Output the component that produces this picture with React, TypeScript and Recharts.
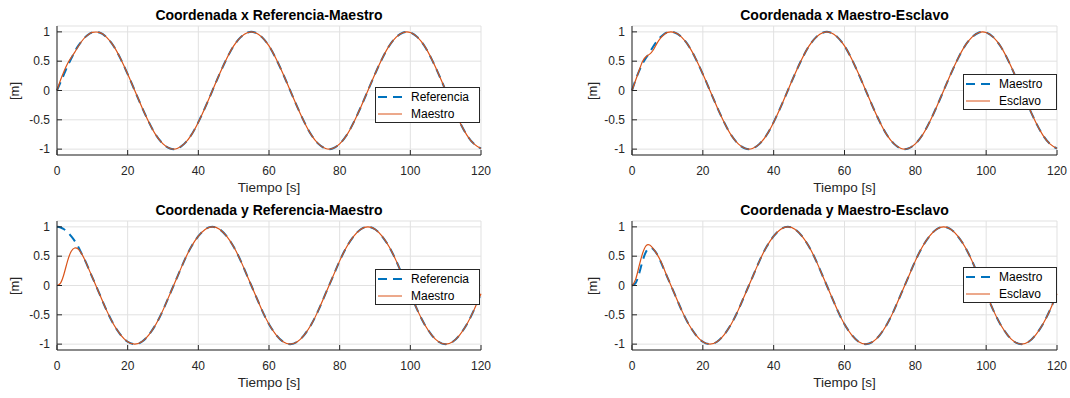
import { LineChart, Line, XAxis, YAxis, CartesianGrid, Legend } from "recharts";

// tiempo [s]: paso 1 s al arranque, luego 2 s
const tiempo = [
  0, 1, 2, 3, 4, 5, 6, 7, 8, 9, 10,
  12, 14, 16, 18, 20, 22, 24, 26, 28, 30, 32, 34, 36, 38, 40, 42, 44,
  46, 48, 50, 52, 54, 56, 58, 60, 62, 64, 66, 68, 70, 72, 74, 76, 78, 80, 82, 84, 86, 88,
  90, 92, 94, 96, 98, 100, 102, 104, 106, 108, 110, 112, 114, 116, 118, 120,
];

// tramo inicial (0..10 s) de cada señal
const xRefIni = [0, 0.14, 0.28, 0.42, 0.54, 0.66, 0.76, 0.84, 0.91, 0.96, 0.99];
const xMaestroIni = [0, 0.18, 0.33, 0.46, 0.56, 0.65, 0.75, 0.84, 0.91, 0.96, 0.99];
const xEsclavoIni = [0, 0.17, 0.34, 0.5, 0.58, 0.62, 0.69, 0.8, 0.89, 0.95, 0.99];
const yRefIni = [1, 0.99, 0.96, 0.91, 0.84, 0.76, 0.66, 0.54, 0.42, 0.28, 0.14];
const yMaestroIni = [0, 0.04, 0.2, 0.42, 0.58, 0.64, 0.62, 0.54, 0.42, 0.28, 0.14];
const yEsclavoIni = [0, 0.1, 0.33, 0.55, 0.68, 0.69, 0.63, 0.54, 0.43, 0.29, 0.14];

// resto (12..120 s), las tres señales coinciden
const xResto = [
  0.99, 0.91, 0.76, 0.54, 0.28, 0, -0.28, -0.54, -0.76, -0.91, -0.99,
  -0.99, -0.91, -0.76, -0.54, -0.28, 0,
  0.28, 0.54, 0.76, 0.91, 0.99, 0.99,
  0.91, 0.76, 0.54, 0.28, 0,
  -0.28, -0.54, -0.76, -0.91, -0.99, -0.99,
  -0.91, -0.76, -0.54, -0.28, 0,
  0.28, 0.54, 0.76, 0.91, 0.99, 0.99,
  0.91, 0.76, 0.54, 0.28, 0,
  -0.28, -0.54, -0.76, -0.91, -0.99,
];
const yResto = [
  -0.14, -0.42, -0.66, -0.84, -0.96, -1,
  -0.96, -0.84, -0.66, -0.42, -0.14, 0.14, 0.42, 0.66, 0.84, 0.96, 1,
  0.96, 0.84, 0.66, 0.42, 0.14, -0.14, -0.42, -0.66, -0.84, -0.96, -1,
  -0.96, -0.84, -0.66, -0.42, -0.14, 0.14, 0.42, 0.66, 0.84, 0.96, 1,
  0.96, 0.84, 0.66, 0.42, 0.14, -0.14, -0.42, -0.66, -0.84, -0.96, -1,
  -0.96, -0.84, -0.66, -0.42, -0.14,
];

const xTicks = [0, 20, 40, 60, 80, 100, 120];
const yTicks = [-1, -0.5, 0, 0.5, 1];

const series: Record<string, number[]> = {
  xRef: [...xRefIni, ...xResto],
  xMaestro: [...xMaestroIni, ...xResto],
  xEsclavo: [...xEsclavoIni, ...xResto],
  yRef: [...yRefIni, ...yResto],
  yMaestro: [...yMaestroIni, ...yResto],
  yEsclavo: [...yEsclavoIni, ...yResto],
};

const data = tiempo.map((t, i) => {
  const row: Record<string, number> = { t };
  for (const k of Object.keys(series)) row[k] = series[k][i];
  return row;
});

const FONT = '"Liberation Sans", Arial, Helvetica, sans-serif';
const AXIS = "#262626";
const GRID = "#e1e1e1";
const BLUE = "#0072BD";
const ORANGE = "#D95319";
const DASH = "9 6";

function BottomTick({ x, y, payload }: any) {
  return (
    <g>
      <line x1={x} x2={x} y1={y} y2={y - 5} stroke={AXIS} />
      <text x={x} y={y + 16} dy="0.35em" textAnchor="middle" fontSize={12} fill={AXIS} fontFamily={FONT}>
        {payload.value}
      </text>
    </g>
  );
}
function TopTick({ x, y }: any) {
  return <line x1={x} x2={x} y1={y} y2={y + 5} stroke={AXIS} />;
}
function LeftTick({ x, y, payload }: any) {
  return (
    <g>
      <line x1={x} x2={x + 5} y1={y} y2={y} stroke={AXIS} />
      <text x={x - 7} y={y} dy="0.35em" textAnchor="end" fontSize={12} fill={AXIS} fontFamily={FONT}>
        {payload.value}
      </text>
    </g>
  );
}
function RightTick({ x, y }: any) {
  return <line x1={x} x2={x - 5} y1={y} y2={y} stroke={AXIS} />;
}

function LegendBox({ names, width }: { names: string[]; width: number }) {
  const row = (name: string, dashed: boolean) => (
    <div style={{ display: "flex", alignItems: "center", height: 17, paddingLeft: 2 }}>
      <svg width={24} height={6} style={{ marginRight: 9 }}>
        <line
          x1={0}
          x2={24}
          y1={3}
          y2={3}
          stroke={dashed ? BLUE : ORANGE}
          strokeWidth={dashed ? 2 : 1}
          strokeDasharray={dashed ? DASH : undefined}
        />
      </svg>
      <span style={{ fontSize: 12, color: "#000", fontFamily: FONT }}>{name}</span>
    </div>
  );
  return (
    <div
      style={{
        width,
        height: 36,
        boxSizing: "border-box",
        border: `1px solid ${AXIS}`,
        background: "#fff",
        paddingTop: 0.5,
      }}
    >
      {row(names[0], true)}
      {row(names[1], false)}
    </div>
  );
}

interface PanelProps {
  left: number;
  top: number;
  width: number;
  right: number;
  title: string;
  keys: [string, string];
  names: [string, string];
  legendLeft: number;
  legendTop: number;
  legendWidth: number;
  yLabelX: number;
}

function Panel(p: PanelProps) {
  const plotLeft = 57;
  const plotRight = p.width - p.right;
  return (
    <div style={{ position: "absolute", left: p.left, top: p.top, width: p.width, height: 200 }}>
      <div
        style={{
          position: "absolute",
          left: plotLeft,
          width: plotRight - plotLeft,
          top: 7,
          textAlign: "center",
          fontFamily: FONT,
          fontWeight: "bold",
          fontSize: 14,
          lineHeight: "16px",
          color: "#000",
        }}
      >
        {p.title}
      </div>
      <div
        style={{
          position: "absolute",
          left: p.yLabelX - 20,
          top: 26 + 64.5 - 8,
          width: 40,
          height: 16,
          lineHeight: "16px",
          textAlign: "center",
          transform: "rotate(-90deg)",
          fontFamily: FONT,
          fontSize: 13,
          color: AXIS,
        }}
      >
        [m]
      </div>
      <LineChart
        width={p.width}
        height={200}
        data={data}
        margin={{ top: 26, right: p.right, bottom: 0, left: 0 }}
        style={{ position: "absolute", left: 0, top: 0 }}
      >
        <CartesianGrid stroke={GRID} strokeWidth={1} />
        <XAxis
          dataKey="t"
          type="number"
          domain={[0, 120]}
          ticks={xTicks}
          height={45}
          tickLine={false}
          tickSize={0}
          tickMargin={0}
          axisLine={{ stroke: AXIS }}
          tick={<BottomTick />}
          label={{ value: "Tiempo [s]", position: "insideBottom", offset: 8, fill: AXIS, fontSize: 13.5, fontFamily: FONT }}
        />
        <XAxis
          xAxisId="top"
          orientation="top"
          dataKey="t"
          type="number"
          domain={[0, 120]}
          ticks={xTicks}
          height={0}
          tickLine={false}
          tickSize={0}
          tickMargin={0}
          axisLine={{ stroke: AXIS }}
          tick={<TopTick />}
        />
        <YAxis
          type="number"
          domain={[-1.1, 1.1]}
          ticks={yTicks}
          width={plotLeft}
          tickLine={false}
          tickSize={0}
          tickMargin={0}
          axisLine={{ stroke: AXIS }}
          tick={<LeftTick />}
        />
        <YAxis
          yAxisId="right"
          orientation="right"
          type="number"
          domain={[-1.1, 1.1]}
          ticks={yTicks}
          width={0}
          tickLine={false}
          tickSize={0}
          tickMargin={0}
          axisLine={{ stroke: AXIS }}
          tick={<RightTick />}
        />
        <Line
          type="natural"
          dataKey={p.keys[0]}
          name={p.names[0]}
          stroke={BLUE}
          strokeWidth={2}
          strokeDasharray={DASH}
          dot={false}
          isAnimationActive={false}
        />
        <Line
          type="natural"
          dataKey={p.keys[1]}
          name={p.names[1]}
          stroke={ORANGE}
          strokeWidth={1.2}
          dot={false}
          isAnimationActive={false}
        />
        <Legend
          layout="vertical"
          align="center"
          verticalAlign="middle"
          wrapperStyle={{ left: p.legendLeft, top: p.legendTop, width: p.legendWidth, height: 36 }}
          content={() => <LegendBox names={p.names} width={p.legendWidth} />}
        />
      </LineChart>
    </div>
  );
}

export default function App() {
  return (
    <div style={{ position: "absolute", left: 0, top: 0, width: 1070, height: 398, background: "#fff" }}>
      <Panel
        left={0}
        top={0}
        width={500}
        right={19}
        title="Coordenada x Referencia-Maestro"
        keys={["xRef", "xMaestro"]}
        names={["Referencia", "Maestro"]}
        legendLeft={375}
        legendTop={87}
        legendWidth={105}
        yLabelX={15}
      />
      <Panel
        left={575}
        top={0}
        width={495}
        right={13}
        title="Coordenada x Maestro-Esclavo"
        keys={["xMaestro", "xEsclavo"]}
        names={["Maestro", "Esclavo"]}
        legendLeft={388}
        legendTop={74}
        legendWidth={94}
        yLabelX={18}
      />
      <Panel
        left={0}
        top={195}
        width={500}
        right={19}
        title="Coordenada y Referencia-Maestro"
        keys={["yRef", "yMaestro"]}
        names={["Referencia", "Maestro"]}
        legendLeft={375}
        legendTop={74}
        legendWidth={105}
        yLabelX={15}
      />
      <Panel
        left={575}
        top={195}
        width={495}
        right={13}
        title="Coordenada y Maestro-Esclavo"
        keys={["yMaestro", "yEsclavo"]}
        names={["Maestro", "Esclavo"]}
        legendLeft={388}
        legendTop={72}
        legendWidth={94}
        yLabelX={18}
      />
    </div>
  );
}
